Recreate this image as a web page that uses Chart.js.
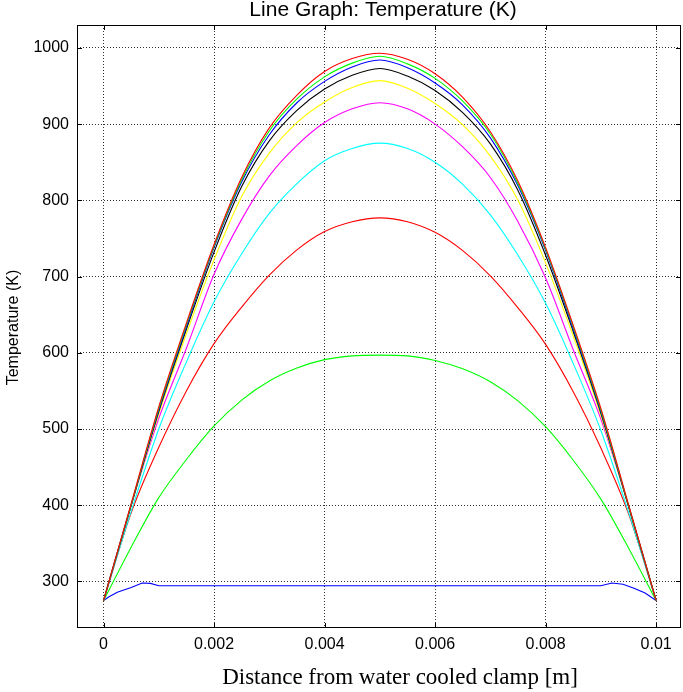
<!DOCTYPE html>
<html><head><meta charset="utf-8">
<script src="https://cdn.jsdelivr.net/npm/chart.js@4.4.0/dist/chart.umd.min.js"></script>
<style>html,body{margin:0;padding:0;background:#fff;}canvas{display:block;}</style>
</head><body>
<canvas id="c" width="683" height="692"></canvas>
<script>
// ---- text ----
const chartTitle = 'Line Graph: Temperature (K)';
const xAxisTitle = 'Distance from water cooled clamp [m]';
const yAxisTitle = 'Temperature (K)';

// ---- ticks ----
const xTickValues = [0, 0.002, 0.004, 0.006, 0.008, 0.01];
const xTickLabels = ['0', '0.002', '0.004', '0.006', '0.008', '0.01'];
const yTickValues = [300, 400, 500, 600, 700, 800, 900, 1000];
const yTickLabels = ['300', '400', '500', '600', '700', '800', '900', '1000'];

// ---- data ----
const xNodes = [0, 0.0005, 0.001, 0.0015, 0.002, 0.0025, 0.003, 0.0035, 0.004, 0.0045, 0.005,
                0.0055, 0.006, 0.0065, 0.007, 0.0075, 0.008, 0.0085, 0.009, 0.0095, 0.01];
const blueFlatX = [0, 0.0001, 0.00025, 0.0005, 0.0007, 0.00085, 0.001, 0.009, 0.0092, 0.0094, 0.0096, 0.0098, 0.01];
const blueFlatT = [275, 280, 286, 292, 298, 297.5, 294.5, 294.5, 298, 296.5, 291, 285, 275];
const green1T  = [275, 345, 410, 460, 504, 538, 563, 580, 591, 596, 597, 596, 590, 579, 562, 537, 503, 459, 408, 344, 275];
const red1T    = [275, 390, 476, 550, 612, 660, 702, 735, 759, 772, 777, 772, 758, 734, 701, 659, 611, 549, 475, 389, 275];
const cyanT    = [275, 392, 500, 588, 667, 730, 783, 822, 852, 868, 875, 868, 850, 821, 781, 728, 665, 586, 498, 391, 275];
const magentaT = [275, 400, 514, 606, 703, 775, 832, 872, 902, 920, 928, 920, 900, 870, 830, 772, 698, 604, 513, 399, 275];
const yellowT  = [275, 399, 520, 625, 722, 805, 862, 902, 929, 948, 957, 947, 927, 899, 858, 800, 718, 622, 518, 398, 275];
const blackT   = [275, 400, 523, 631, 732, 818, 878, 918, 946, 964, 973, 963, 944, 915, 874, 813, 728, 628, 521, 399, 275];
const blue2T   = [275, 400, 525, 634, 738, 824, 886, 928, 956, 975, 984, 974, 954, 925, 882, 819, 734, 631, 523, 399, 275];
const green2T  = [275, 401, 527, 637, 740, 827, 891, 933, 962, 980, 989, 979, 960, 930, 887, 822, 736, 634, 525, 400, 275];
const red2T    = [275, 402, 529, 639, 742, 830, 895, 938, 969, 986, 993, 985, 966, 935, 890, 825, 738, 636, 527, 401, 275];

const seriesList = [
  {xs: blueFlatX, ys: blueFlatT, color: '#0000ff', smooth: false},
  {xs: xNodes, ys: green1T,  color: '#00ff00', smooth: true},
  {xs: xNodes, ys: red1T,    color: '#ff0000', smooth: true},
  {xs: xNodes, ys: cyanT,    color: '#00ffff', smooth: true},
  {xs: xNodes, ys: magentaT, color: '#ff00ff', smooth: true},
  {xs: xNodes, ys: yellowT,  color: '#ffff00', smooth: true},
  {xs: xNodes, ys: blackT,   color: '#000000', smooth: true},
  {xs: xNodes, ys: blue2T,   color: '#0000ff', smooth: true},
  {xs: xNodes, ys: green2T,  color: '#00ff00', smooth: true},
  {xs: xNodes, ys: red2T,    color: '#ff0000', smooth: true}
];

const datasets = seriesList.map((s, i) => ({
  data: s.xs.map((x, k) => ({x: x, y: s.ys[k]})),
  borderColor: s.color,
  borderWidth: 1.1,
  pointRadius: 0,
  tension: 0,
  cubicInterpolationMode: s.smooth ? 'monotone' : 'default',
  fill: false,
  order: seriesList.length - i
}));

const sans = '"Liberation Sans", Arial, Helvetica, sans-serif';
const serif = '"Liberation Serif", "Times New Roman", serif';

const decor = {
  id: 'decor',
  afterDraw(chart) {
    const {ctx, chartArea: a} = chart;
    const xs = chart.scales.x, ys = chart.scales.y;
    ctx.save();
    ctx.strokeStyle = '#000';
    ctx.lineWidth = 1;
    ctx.strokeRect(a.left + 0.5, a.top + 0.5, a.right - a.left - 1, a.bottom - a.top - 1);
    ctx.beginPath();
    xTickValues.forEach(v => {
      const px = Math.round(xs.getPixelForValue(v)) + 0.5;
      ctx.moveTo(px, a.bottom); ctx.lineTo(px, a.bottom - 5);
      ctx.moveTo(px, a.top); ctx.lineTo(px, a.top + 5);
    });
    yTickValues.forEach(v => {
      const py = Math.round(ys.getPixelForValue(v)) + 0.5;
      ctx.moveTo(a.left, py); ctx.lineTo(a.left + 5, py);
      ctx.moveTo(a.right, py); ctx.lineTo(a.right - 5, py);
    });
    ctx.stroke();
    ctx.fillStyle = '#000';
    ctx.textAlign = 'center';
    ctx.textBaseline = 'middle';
    ctx.font = '21px ' + sans;
    ctx.fillText(chartTitle, (a.left + a.right) / 2 + 4, a.top - 15);
    ctx.font = '23px ' + serif;
    ctx.fillText(xAxisTitle, (a.left + a.right) / 2 + 21, a.bottom + 50);
    ctx.translate(a.left - 63, (a.top + a.bottom) / 2 + 1);
    ctx.rotate(-Math.PI / 2);
    ctx.font = '16px ' + sans;
    ctx.fillText(yAxisTitle, 0, 0);
    ctx.restore();
  }
};

new Chart(document.getElementById('c'), {
  type: 'line',
  data: {datasets},
  options: {
    responsive: false,
    animation: false,
    devicePixelRatio: 1,
    layout: {padding: {top: 25, right: 2, bottom: 0, left: 0}},
    plugins: {legend: {display: false}, tooltip: {enabled: false}, title: {display: false}},
    scales: {
      x: {
        type: 'linear',
        min: -0.00048, max: 0.01045,
        afterBuildTicks: s => { s.ticks = xTickValues.map(v => ({value: v})); },
        afterFit: s => { s.height = 64; },
        ticks: {
          autoSkip: false, maxRotation: 0, padding: 7, color: '#000',
          font: {family: sans, size: 16},
          callback: (v, i) => xTickLabels[i]
        },
        grid: {color: '#333', lineWidth: 1, drawTicks: false, borderDash: [1, 2]},
        border: {display: false, dash: [1, 2]}
      },
      y: {
        type: 'linear',
        min: 239, max: 1030,
        afterBuildTicks: s => { s.ticks = yTickValues.map(v => ({value: v})); },
        afterFit: s => { s.width = 77; },
        ticks: {
          autoSkip: false, padding: 8, color: '#000',
          font: {family: sans, size: 16},
          callback: (v, i) => yTickLabels[i]
        },
        grid: {color: '#333', lineWidth: 1, drawTicks: false, borderDash: [1, 2]},
        border: {display: false, dash: [1, 2]}
      }
    }
  },
  plugins: [decor]
});
</script>
</body></html>
